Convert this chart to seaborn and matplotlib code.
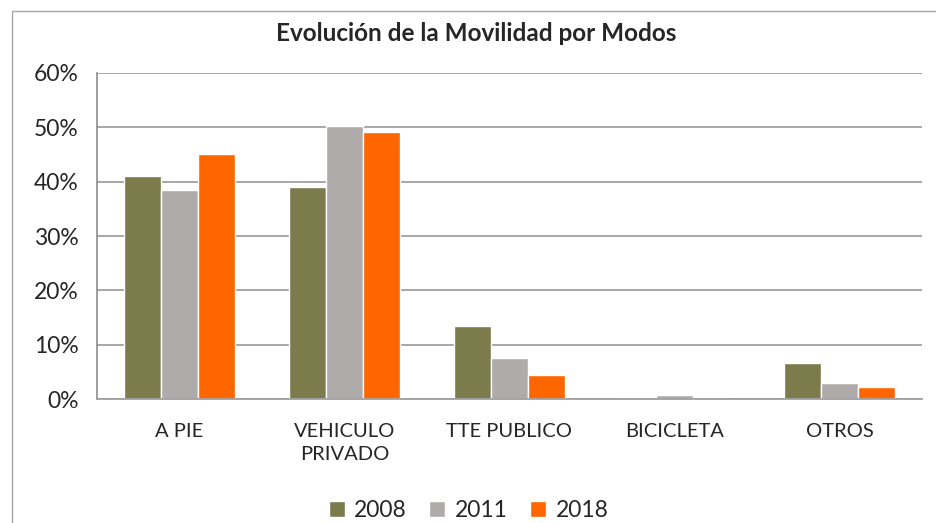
import pandas as pd
import numpy as np
import matplotlib
matplotlib.use("Agg")
import matplotlib.pyplot as plt
import seaborn as sns
from matplotlib.patches import Rectangle
from matplotlib.ticker import PercentFormatter

# datos (%)
modos = ["A PIE", "VEHICULO\nPRIVADO", "TTE PUBLICO", "BICICLETA", "OTROS"]
anios = ["2008", "2011", "2018"]
v2008 = [41.0, 39.0, 13.4, 0.0, 6.6]
v2011 = [38.4, 50.2, 7.6, 0.8, 3.0]
v2018 = [45.0, 49.1, 4.4, 0.0, 2.3]
colores = ["#7B7B4B", "#AFABAB", "#FF6600"]

df = pd.DataFrame({
    "modo": modos * 3,
    "anio": [a for a in anios for _ in modos],
    "valor": v2008 + v2011 + v2018,
})

sns.set_style("white")
plt.rcParams["font.family"] = ["Lato", "DejaVu Sans"]

fig = plt.figure(figsize=(9.37, 5.23), dpi=100)
ax = fig.add_axes([0.1035, 0.237, 0.8805, 0.6235])

sns.barplot(data=df, x="modo", y="valor", hue="anio", palette=colores,
            width=0.667, saturation=1, ax=ax, legend=True)

ax.set_ylim(0, 60)
ax.set_xlim(-0.5, 4.5)
ax.set_yticks(np.arange(0, 61, 10))
ax.yaxis.set_major_formatter(PercentFormatter(decimals=0))
ax.grid(axis="y", color="#A0A0A0", linewidth=1.3)
ax.set_axisbelow(True)
for s in ["top", "right"]:
    ax.spines[s].set_visible(False)
ax.spines["left"].set_color("#8C8C8C")
ax.spines["bottom"].set_color("#A0A0A0")
ax.spines["left"].set_linewidth(1.2)
ax.spines["bottom"].set_linewidth(1.3)

ax.tick_params(axis="y", length=7, color="#8C8C8C", labelsize=16.5, pad=6)
ax.tick_params(axis="x", which="major", length=0, labelsize=14.5, pad=17)
ax.set_xticks(np.arange(-0.5, 5, 1), minor=True)
ax.tick_params(axis="x", which="minor", length=7, color="#8C8C8C")
ax.set_xlabel("")
ax.set_ylabel("")
for lbl in ax.get_xticklabels():
    lbl.set_linespacing(1.45)
    lbl.set_verticalalignment("top")

fig.text(0.508, 0.935, "Evolución de la Movilidad por Modos",
         ha="center", va="center", fontsize=17.5, fontweight="bold")

h, l = ax.get_legend_handles_labels()
ax.legend_.remove()
fig.legend(h, l, loc="lower center", bbox_to_anchor=(0.5, -0.035), ncol=3,
           frameon=False, fontsize=16.5, handlelength=0.7, handleheight=0.7,
           handletextpad=0.4, columnspacing=1.0)

fig.patches.append(Rectangle((12 / 937, -0.1), 1.2, 1.1 - 11 / 523,
                             transform=fig.transFigure, fill=False,
                             edgecolor="#A6A6A6", linewidth=1.0))

fig.savefig("out.png", dpi=100)
